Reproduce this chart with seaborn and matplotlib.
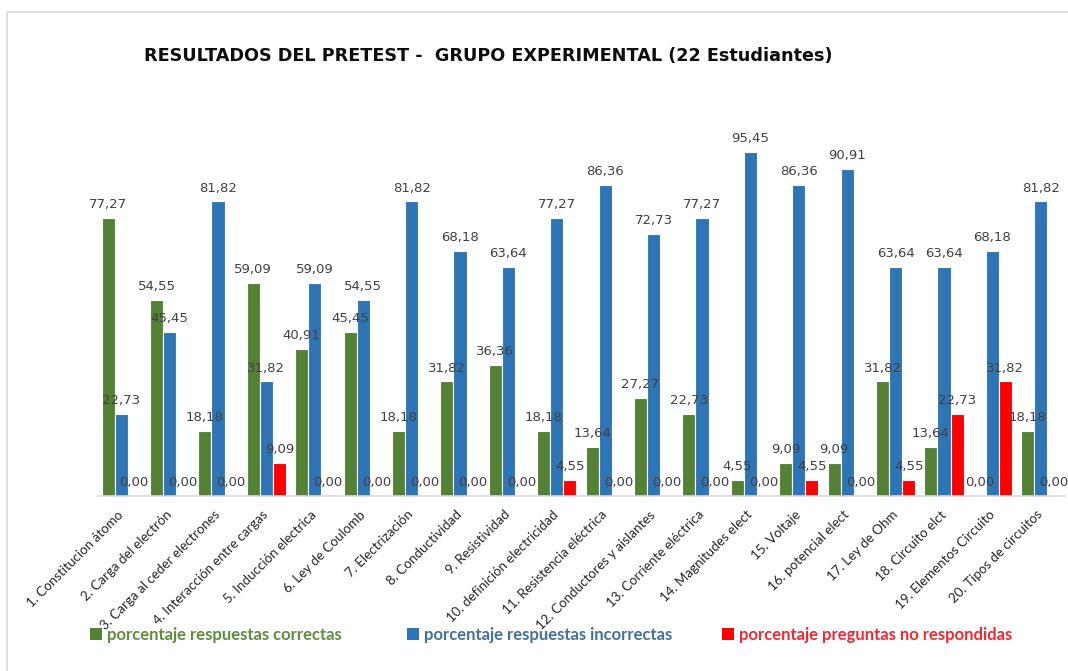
import matplotlib
matplotlib.use("Agg")
import matplotlib.pyplot as plt
import seaborn as sns
import pandas as pd
from matplotlib.patches import Rectangle, Patch

temas = [
    "1. Constitucion átomo", "2. Carga del electrón", "3. Carga al ceder electrones",
    "4. Interacción entre cargas", "5. Inducción electrica", "6. Ley de Coulomb",
    "7. Electrización", "8. Conductividad", "9. Resistividad",
    "10. definición electricidad", "11. Resistencia eléctrica",
    "12. Conductores y aislantes", "13. Corriente eléctrica", "14. Magnitudes elect",
    "15. Voltaje", "16. potencial elect", "17. Ley de Ohm", "18. Circuito elct",
    "19. Elementos Circuito", "20. Tipos de circuitos",
]
correctas = [77.27, 54.55, 18.18, 59.09, 40.91, 45.45, 18.18, 31.82, 36.36, 18.18,
             13.64, 27.27, 22.73, 4.55, 9.09, 9.09, 31.82, 13.64, 0.00, 18.18]
incorrectas = [22.73, 45.45, 81.82, 31.82, 59.09, 54.55, 81.82, 68.18, 63.64, 77.27,
               86.36, 72.73, 77.27, 95.45, 86.36, 90.91, 63.64, 63.64, 68.18, 81.82]
no_respondidas = [0.00, 0.00, 0.00, 9.09, 0.00, 0.00, 0.00, 0.00, 0.00, 4.55,
                  0.00, 0.00, 0.00, 0.00, 4.55, 0.00, 4.55, 22.73, 31.82, 0.00]

series = ["porcentaje respuestas correctas", "porcentaje respuestas incorrectas",
          "porcentaje preguntas no respondidas"]
colores = ["#548235", "#2E75B6", "#FF0000"]
colores_texto = ["#5E8E3E", "#43709E", "#EE2A36"]

df = pd.DataFrame({
    "tema": temas * 3,
    "valor": correctas + incorrectas + no_respondidas,
    "serie": [s for s in series for _ in temas],
})

sns.set_theme(style="white")
fig = plt.figure(figsize=(10.68, 6.71), dpi=100)
ax = fig.add_axes([0.0908, 0.2608, 0.9064, 0.5365])

sns.barplot(data=df, x="tema", y="valor", hue="serie", hue_order=series,
            palette=colores, saturation=1, width=0.81, edgecolor="white", linewidth=0.8,
            errorbar=None, legend=False, ax=ax)

# etiquetas de datos con coma decimal
for cont in ax.containers:
    ax.bar_label(cont, fmt=lambda v: f"{v:.2f}".replace(".", ","), padding=5,
                 fontsize=9.5, color="#404040")

ax.set_ylim(0, 100)
ax.set_xlim(-0.5, len(temas) - 0.5)
ax.set_xlabel("")
ax.set_ylabel("")
ax.set_yticks([])
for s in ["top", "right", "left"]:
    ax.spines[s].set_visible(False)
ax.spines["bottom"].set_color("#d9d9d9")
ax.spines["bottom"].set_linewidth(1.2)
ax.tick_params(axis="x", length=0, pad=12)
ax.set_xticks(range(len(temas)))
ax.set_xticklabels(temas, rotation=45, ha="right", va="center", rotation_mode="anchor",
                   fontsize=9.6, family="Lato", color="#262626")

fig.text(0.4574, 0.9165, "RESULTADOS DEL PRETEST -  GRUPO EXPERIMENTAL (22 Estudiantes)",
         ha="center", va="center", fontsize=12.7, fontweight="bold", color="#0d0d0d")

# leyenda: una entrada por posición, como en el original
x_leyenda = [90 / 1068, 407 / 1068, 722 / 1068]
for nombre, c, ct, xl in zip(series, colores, colores_texto, x_leyenda):
    leg = fig.legend([Patch(facecolor=c, edgecolor="none")], [nombre], loc="center left",
                     bbox_to_anchor=(xl, 0.054), frameon=False, handlelength=0.7,
                     handleheight=0.7, handletextpad=0.3, borderpad=0, borderaxespad=0,
                     labelcolor=ct, prop={"family": "Lato", "weight": "bold", "size": 12})

# marco gris del área del gráfico
fig.add_artist(Rectangle((7 / 1068, -0.05), 1.1, 1.05 - 12 / 671, transform=fig.transFigure,
                         fill=False, edgecolor="#d9d9d9", linewidth=1.2))

fig.savefig("out.png", dpi=100)
